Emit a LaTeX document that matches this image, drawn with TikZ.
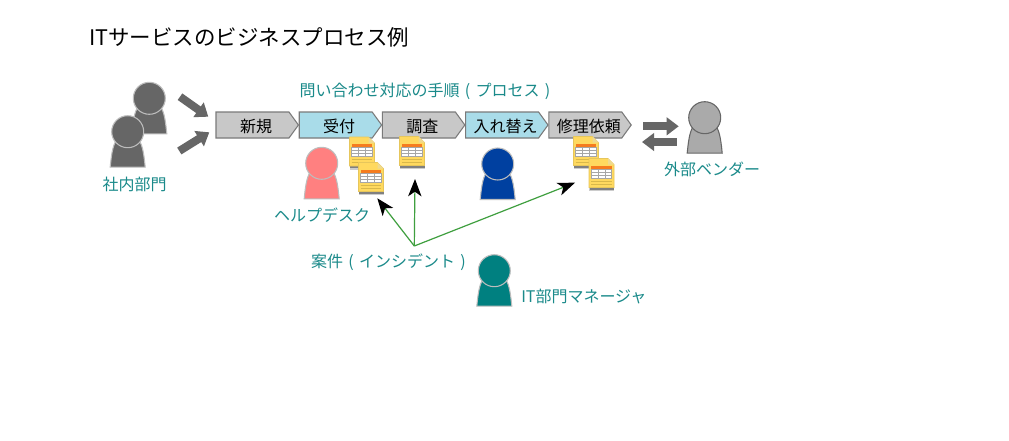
\documentclass[tikz,border=0pt]{standalone}
\usepackage{fontspec}
\setmainfont{Noto Sans CJK JP}
\usetikzlibrary{arrows.meta,positioning,shapes.symbols}

\definecolor{labelteal}{HTML}{1A8A8A}
\definecolor{stepgray}{HTML}{C8C8C8}
\definecolor{stepblue}{HTML}{A9DCE9}
\definecolor{stepedge}{HTML}{7A7A7A}
\definecolor{darkperson}{HTML}{666666}
\definecolor{lightedge}{HTML}{BDBDBD}
\definecolor{deskpink}{HTML}{FF8080}
\definecolor{swapblue}{HTML}{0040A0}
\definecolor{managerteal}{HTML}{008080}
\definecolor{vendorgray}{HTML}{AAAAAA}
\definecolor{docyellow}{HTML}{FFD95F}
\definecolor{docedge}{HTML}{E6C65C}
\definecolor{docfold}{HTML}{EFD98F}
\definecolor{docrule}{HTML}{D9B84A}
\definecolor{docorange}{HTML}{F57C1F}
\definecolor{caseline}{HTML}{3F9F3F}

\newcommand{\openpar}{\makebox[1em]{(}}
\newcommand{\closepar}{\makebox[1em]{)}}

\tikzset{
  person/.pic={
    \path[pic actions] (-17.5,35.5) .. controls (-16.5,26) and (-15.5,14) .. (-11,8) -- (11,8)
      .. controls (15.5,14) and (16.5,26) .. (17.5,35.5) -- cycle;
    \node[circle,minimum size=24pt,inner sep=0pt,pic actions] (-head) at (0,0) {};
  },
  doc/.pic={
    \fill[black!20] (0,29) rectangle (25,32.5);
    \fill[black!50] (0.5,29) rectangle (25,31);
    \draw[docedge,fill=docyellow,line width=0.5pt] (0,0) -- (19,0) -- (25,6) -- (25,29) -- (0,29) -- cycle;
    \fill[docfold] (19,0) -- (19,6) -- (25,6) -- cycle;
    \fill[docorange] (2,7) rectangle (22.5,10.5);
    \draw[black!35,fill=white,line width=0.3pt] (2,10.5) rectangle (22.5,19.5);
    \draw[black!35,line width=0.3pt] (9,10.5) -- (9,19.5) (16,10.5) -- (16,19.5) (2,13.5) -- (22.5,13.5) (2,16.5) -- (22.5,16.5);
    \draw[docrule,line width=0.5pt] (2,22.5) -- (22.5,22.5) (2,25.5) -- (22.5,25.5);
  }
}

\begin{document}
\begin{tikzpicture}[x=0.75pt,y=-0.75pt,node distance=62.4pt,font=\fontsize{12pt}{14pt}\selectfont]
  \tikzset{stepbox/.style={signal,signal to=east,signal from=nowhere,signal pointer angle=108,
      draw=stepedge,line width=0.8pt,minimum width=61.8pt,minimum height=19.5pt,inner sep=0pt,text=black,
      text height=12.4pt,text depth=1pt,execute at begin node=\hspace*{5.25pt}}}
  \tikzset{graystep/.style={stepbox,fill=stepgray}}
  \tikzset{bluestep/.style={stepbox,fill=stepblue}}
  \tikzset{caption/.style={text=labelteal,inner sep=0pt}}
  \tikzset{blockarrow/.style={draw=darkperson,line width=6pt,-{Triangle[length=9pt,width=13pt]}}}
  \tikzset{casearrow/.style={draw=caseline,line width=0.9pt,-{Stealth[black,length=13pt,width=10pt,inset=3.5pt]}}}

  \useasboundingbox (0,0) rectangle (1009,440);
  \fill[white] (0,0) rectangle (1009,440);

  \node[anchor=west,inner sep=0pt,font=\fontsize{16.1pt}{18pt}\selectfont] (title) at (89,37) {ITサービスのビジネスプロセス例};
  \node[caption] (flowname) at (427.5,91.5) {問い合わせ対応の手順\openpar プロセス\closepar};

  \node[graystep] (new) at (252.5,125) {新規};
  \node[bluestep] (accept) [right of=new] {受付};
  \node[graystep] (survey) [right of=accept] {調査};
  \node[bluestep] (swap) [right of=survey] {入れ替え};
  \node[graystep] (repair) [right of=swap] {修理依頼};

  \pic[fill=darkperson,draw=lightedge,line width=0.8pt] (deptback) at (149.3,98.3) {person};
  \pic[fill=darkperson,draw=lightedge,line width=0.8pt] (deptfront) at (127.7,131.7) {person};
  \pic[fill=deskpink,draw=lightedge,line width=0.8pt] (desk) at (321.7,163.3) {person};
  \pic[fill=swapblue,draw=lightedge,line width=0.8pt] (engineer) at (497.7,164) {person};
  \pic[fill=managerteal,draw=lightedge,line width=0.8pt] (manager) at (494.3,270.7) {person};
  \pic[fill=vendorgray,draw=black!60,line width=0.8pt] (vendor) at (704.7,117.7) {person};

  \node[caption] (deptname) at (134.7,184) {社内部門};
  \node[caption] (deskname) at (322,215.5) {ヘルプデスク};
  \node[caption] (vendorname) at (712,169.5) {外部ベンダー};
  \node[caption,anchor=west] (managername) at (521,297) {IT部門マネージャ};
  \node[caption] (casename) at (391,262) {案件\openpar インシデント\closepar};

  \pic (docA) at (349.5,137) {doc};
  \pic (docB) at (358.5,162.5) {doc};
  \pic (docC) at (399.5,136.5) {doc};
  \pic (docD) at (573.5,136.5) {doc};
  \pic (docE) at (589,158.5) {doc};

  \coordinate (hub) at (414.3,246);
  \coordinate (caseA) at (377.3,198.3);
  \coordinate (caseB) at (415,179);
  \coordinate (caseC) at (575,182.7);
  \coordinate (inA) at (180,96.7);
  \coordinate (inAend) at (208.3,116.7);
  \coordinate (inB) at (179.3,151);
  \coordinate (inBend) at (209.3,132.3);
  \coordinate (outA) at (643.3,126.3);
  \coordinate (outAend) at (678.7,126.3);
  \coordinate (outB) at (676.7,142);
  \coordinate (outBend) at (642,142);

  \path
  (inA) edge[blockarrow] (inAend)
  (inB) edge[blockarrow] (inBend)
  (outA) edge[blockarrow] (outAend)
  (outB) edge[blockarrow] (outBend)
  (hub) edge[casearrow] (caseA)
  edge[casearrow] (caseB)
  edge[casearrow] (caseC);
\end{tikzpicture}
\end{document}
